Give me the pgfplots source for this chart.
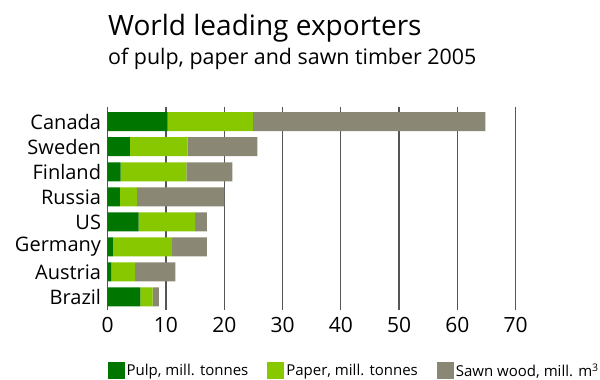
\documentclass[border=0pt]{standalone}
\usepackage{pgfplots}
\pgfplotsset{compat=1.18}
\usepackage{fontspec}
\setmainfont{Open Sans}
\definecolor{pulp}{RGB}{0,118,0}
\definecolor{paper}{RGB}{136,200,0}
\definecolor{sawn}{RGB}{138,136,116}
\definecolor{gridc}{RGB}{85,85,85}
\begin{document}
\begin{tikzpicture}
\useasboundingbox (0,0) rectangle (600bp,380bp);
\node[anchor=base west, inner sep=0pt, font=\fontsize{28bp}{30bp}\selectfont] at (108bp,344bp) {World leading exporters};
\node[anchor=base west, inner sep=0pt, font=\fontsize{21.4bp}{24bp}\selectfont] at (108bp,315bp) {of pulp, paper and sawn timber 2005};
\begin{axis}[
  at={(107.7bp,70bp)}, anchor=south west,
  scale only axis, width=408bp, height=203bp,
  xbar stacked, bar width=19bp,
  xmin=0, xmax=70, ymin=-0.587, ymax=7.52,
  y dir=reverse,
  ytick={0,...,7},
  yticklabels={Canada,Sweden,Finland,Russia,US,Germany,Austria,Brazil},
  xtick={0,10,...,70},
  xmajorgrids, grid style={gridc, line width=1.3bp},
  axis line style={draw=none},
  major tick length=0pt,
  /pgf/number format/assume math mode=true,
  yticklabel style={anchor=east, inner sep=0pt, xshift=-6.5bp, font=\fontsize{20bp}{22bp}\selectfont},
  xticklabel style={anchor=north, inner sep=0pt, yshift=-7bp, font=\fontsize{21bp}{24bp}\selectfont},
  legend columns=3,
  legend style={at={(axis description cs:0,-0.345)}, anchor=south west, draw=none, inner sep=0pt, outer sep=0pt,
    font=\fontsize{15bp}{17bp}\selectfont,
    /tikz/every even column/.append style={column sep=17bp}},
  legend image code/.code={\fill[#1] (0bp,-8.5bp) rectangle (17bp,8.5bp);},
]
\addplot[fill=pulp, draw=none] coordinates {(10.3,0) (3.8,1) (2.2,2) (2.1,3) (5.3,4) (0.9,5) (0.6,6) (5.6,7)};
\addplot[fill=paper, draw=none] coordinates {(14.6,0) (9.9,1) (11.3,2) (2.9,3) (9.7,4) (10.1,5) (4.1,6) (2.1,7)};
\addplot[fill=sawn, draw=none] coordinates {(39.9,0) (12.0,1) (7.9,2) (15.0,3) (2.0,4) (6.0,5) (6.9,6) (1.1,7)};
\legend{{Pulp, mill. tonnes},{Paper, mill. tonnes},{Sawn wood, mill. m\textsuperscript{3}}}
\end{axis}
\end{tikzpicture}
\end{document}
